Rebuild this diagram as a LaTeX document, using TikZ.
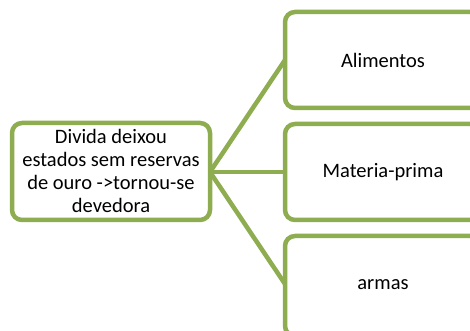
\documentclass[tikz,border=0pt]{standalone}
\usepackage{fontspec}
\setmainfont{Carlito}
\definecolor{grn}{RGB}{142,172,80}
\begin{document}
\begin{tikzpicture}[x=1pt,y=1pt,
  box/.style={draw=grn,line width=4.5pt,rounded corners=10pt,fill=white,inner sep=0pt},
  conn/.style={draw=grn,line width=4.5pt},
  lbl/.style={font=\fontsize{20.5}{22.7}\selectfont,align=center,text=black}]
\useasboundingbox (0,0) rectangle (470,331);
\begin{scope}
\clip (0,0) rectangle (470,331);
% connectors
\coordinate (src) at (210,159);
\coordinate (t1) at (285,271);
\coordinate (t2) at (285,159);
\coordinate (t3) at (285,47);
\draw[conn] (src) -- (t1);
\draw[conn] (src) -- (t2);
\draw[conn] (src) -- (t3);
% boxes
\draw[box] (12,111) rectangle (210,208);
\draw[box] (285,223) rectangle (480,319);
\draw[box] (285,111) rectangle (480,207);
\draw[box] (285,-5) rectangle (480,95);
\node[lbl] (main) at (111,160) {Divida deixou\\estados sem reservas\\de ouro ->tornou-se\\devedora};
\node[lbl] (a) at (383,271) {Alimentos};
\node[lbl] (b) at (383,159) {Materia-prima};
\node[lbl] (c) at (383,46) {armas};
\end{scope}
\end{tikzpicture}
\end{document}
